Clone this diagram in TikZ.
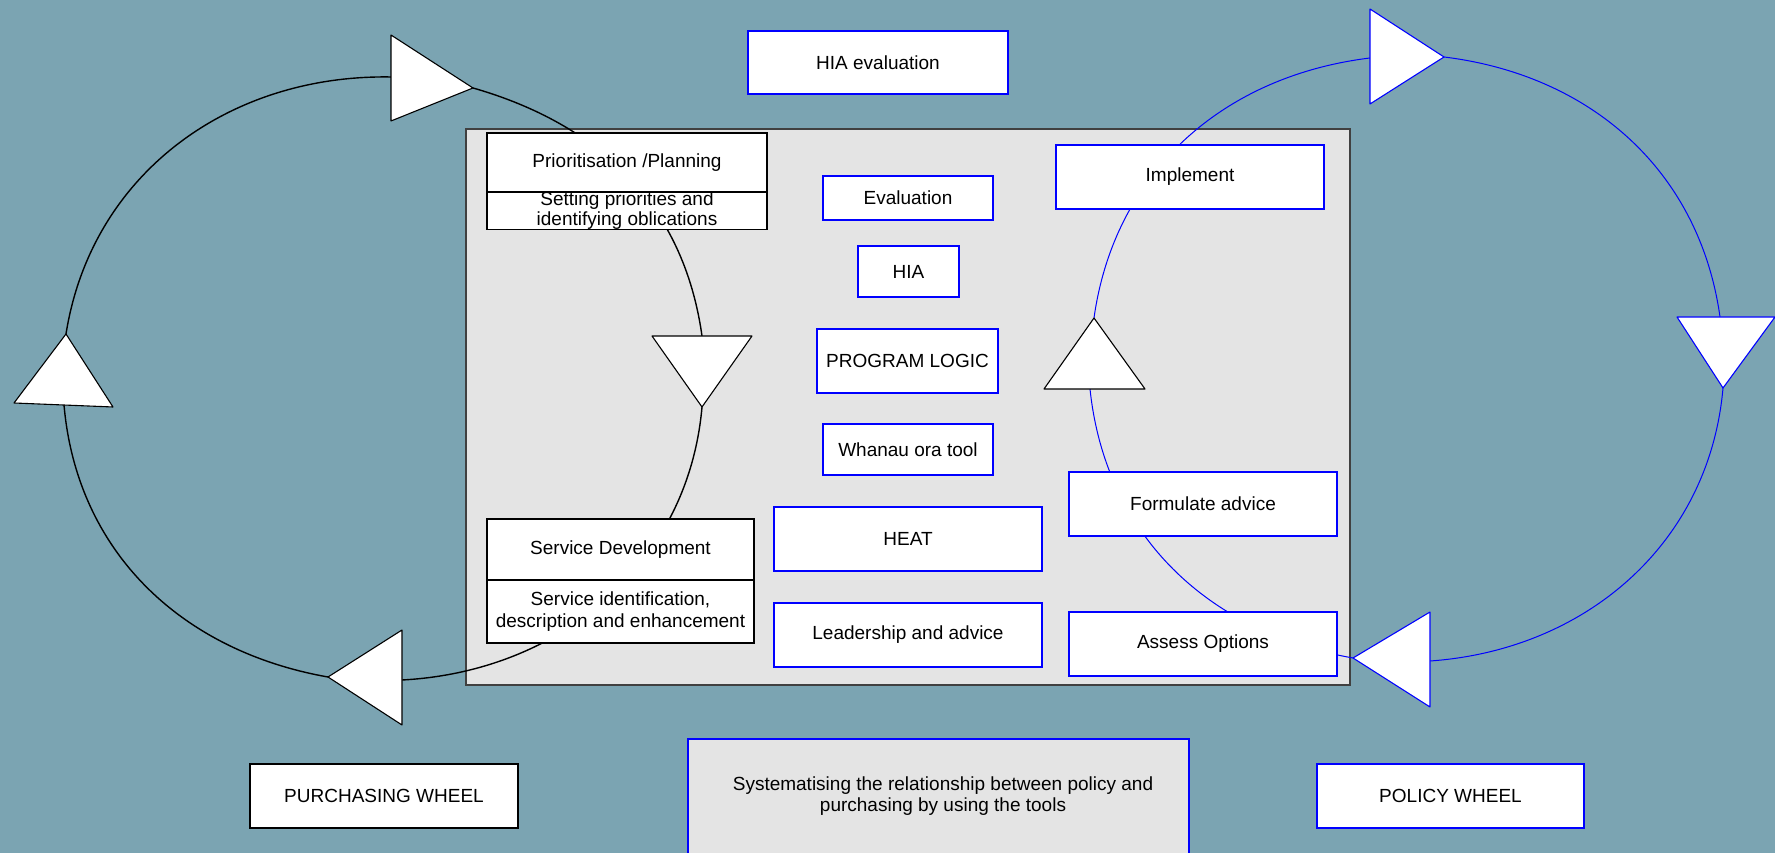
\documentclass[tikz,border=0pt]{standalone}
\usepackage{fontspec}
\setmainfont{Liberation Sans}
\usetikzlibrary{positioning}

\definecolor{sea}{RGB}{123,164,178}
\definecolor{panelgray}{RGB}{228,228,228}
\newcommand{\labfont}{\fontsize{19}{21.5}\selectfont}

\tikzset{
  blackbox/.style={draw=black, fill=white, line width=1.1pt, inner sep=2pt, outer sep=0pt, align=center, font=\labfont},
  bluebox/.style={blackbox, draw=blue},
  purwheel/.style={black, line width=1.4pt},
  polwheel/.style={blue, line width=1pt},
  purtri/.style={draw=black, fill=white, line width=1.1pt, line join=round},
  poltri/.style={draw=blue, fill=white, line width=1.1pt, line join=round},
}

\begin{document}
\begin{tikzpicture}[x=1pt,y=1pt]
\fill[sea] (0,0) rectangle (1775,853);
\useasboundingbox (0,0) rectangle (1775,853);
\node[draw=black!75, fill=panelgray, line width=1.2pt, inner sep=0pt, minimum width=884pt, minimum height=556pt] (panel) at (908,446) {};

% purchasing wheel
\coordinate (pt-in) at (391,776);
\coordinate (pt-out) at (473,765);
\coordinate (pr-in) at (702,517);
\coordinate (pr-out) at (702,446);
\coordinate (pb-in) at (402,173);
\coordinate (pb-out) at (328,176);
\coordinate (pl-in) at (64,448);
\coordinate (pl-out) at (66,519);
\draw[purwheel] (pt-out) to[out=-16,in=98] (pr-in);
\draw[purwheel] (pr-out) to[out=-95,in=3] (pb-in);
\draw[purwheel] (pb-out) to[out=170,in=-85] (pl-in);
\draw[purwheel] (pl-out) to[out=81,in=179] (pt-in);
\draw[purtri] (391,818) -- (pt-out) -- (391,732) -- cycle;
\draw[purtri] (652,517) -- (752,517) -- (pr-out) -- cycle;
\draw[purtri] (402,223) -- (pb-out) -- (402,128) -- cycle;
\draw[purtri] (14,450) -- (113,446) -- (pl-out) -- cycle;

% policy wheel
\coordinate (qt-in) at (1370,795);
\coordinate (qt-out) at (1444,796);
\coordinate (qr-in) at (1720,536);
\coordinate (qr-out) at (1723,465);
\coordinate (qb-in) at (1430,192);
\coordinate (qb-out) at (1353,195);
\coordinate (ql-in) at (1090,464);
\coordinate (ql-out) at (1094,535);
\draw[polwheel] (qt-out) to[out=-7,in=98] (qr-in);
\draw[polwheel] (qr-out) to[out=-95,in=4] (qb-in);
\draw[polwheel] (qb-out) to[out=170,in=-84] (ql-in);
\draw[polwheel] (ql-out) to[out=82,in=187] (qt-in);
\draw[poltri] (1370,844) -- (qt-out) -- (1370,749) -- cycle;
\draw[poltri] (1677,536) -- (1775,536) -- (qr-out) -- cycle;
\draw[poltri] (1430,241) -- (qb-out) -- (1430,146) -- cycle;
\draw[purtri] (1044,464) -- (1145,464) -- (ql-out) -- cycle;

% purchasing boxes
\node[blackbox, minimum width=280pt, minimum height=59pt] (prio) at (627,690.5) {Prioritisation /Planning};
\node[blackbox, minimum width=280pt, minimum height=36pt, inner sep=0pt, font=\fontsize{19}{19.5}\selectfont, below=0pt of prio] (priodesc) {Setting priorities and\\identifying oblications};
\node[blackbox, minimum width=267pt, minimum height=61pt] (servdev) at (620.5,303.5) {Service Development};
\node[blackbox, minimum width=267pt, minimum height=63pt, below=0pt of servdev] (servdesc) {Service identification,\\description and enhancement};

% tools
\node[bluebox, minimum width=260pt, minimum height=63pt] (hiaeval) at (878,790.5) {HIA evaluation};
\node[bluebox, minimum width=170pt, minimum height=44pt] (eval) at (908,655) {Evaluation};
\node[bluebox, minimum width=101pt, minimum height=51pt] (hia) at (908.5,581.5) {HIA};
\node[bluebox, minimum width=181pt, minimum height=64pt] (logic) at (907.5,492) {PROGRAM LOGIC};
\node[bluebox, minimum width=170pt, minimum height=51pt] (whanau) at (908,403.5) {Whanau ora tool};
\node[bluebox, minimum width=268pt, minimum height=64pt] (heat) at (908,314) {HEAT};
\node[bluebox, minimum width=268pt, minimum height=64pt] (lead) at (908,218) {Leadership and advice};

% policy boxes
\node[bluebox, minimum width=268pt, minimum height=64pt] (implement) at (1190,676) {Implement};
\node[bluebox, minimum width=268pt, minimum height=64pt] (formulate) at (1203,349) {Formulate advice};
\node[bluebox, minimum width=268pt, minimum height=64pt] (assess) at (1203,209) {Assess Options};

% bottom row
\node[blackbox, minimum width=268pt, minimum height=64pt] (purchasing) at (384,57) {PURCHASING WHEEL};
\node[bluebox, fill=panelgray, anchor=north, minimum width=501pt, minimum height=150pt] (system) at (938.5,114) {};
\node[font=\labfont, align=center] (systemtext) at (943,57) {Systematising the relationship between policy and\\purchasing by using the tools};
\node[bluebox, minimum width=267pt, minimum height=64pt] (policy) at (1450.5,57) {POLICY WHEEL};
\end{tikzpicture}
\end{document}
